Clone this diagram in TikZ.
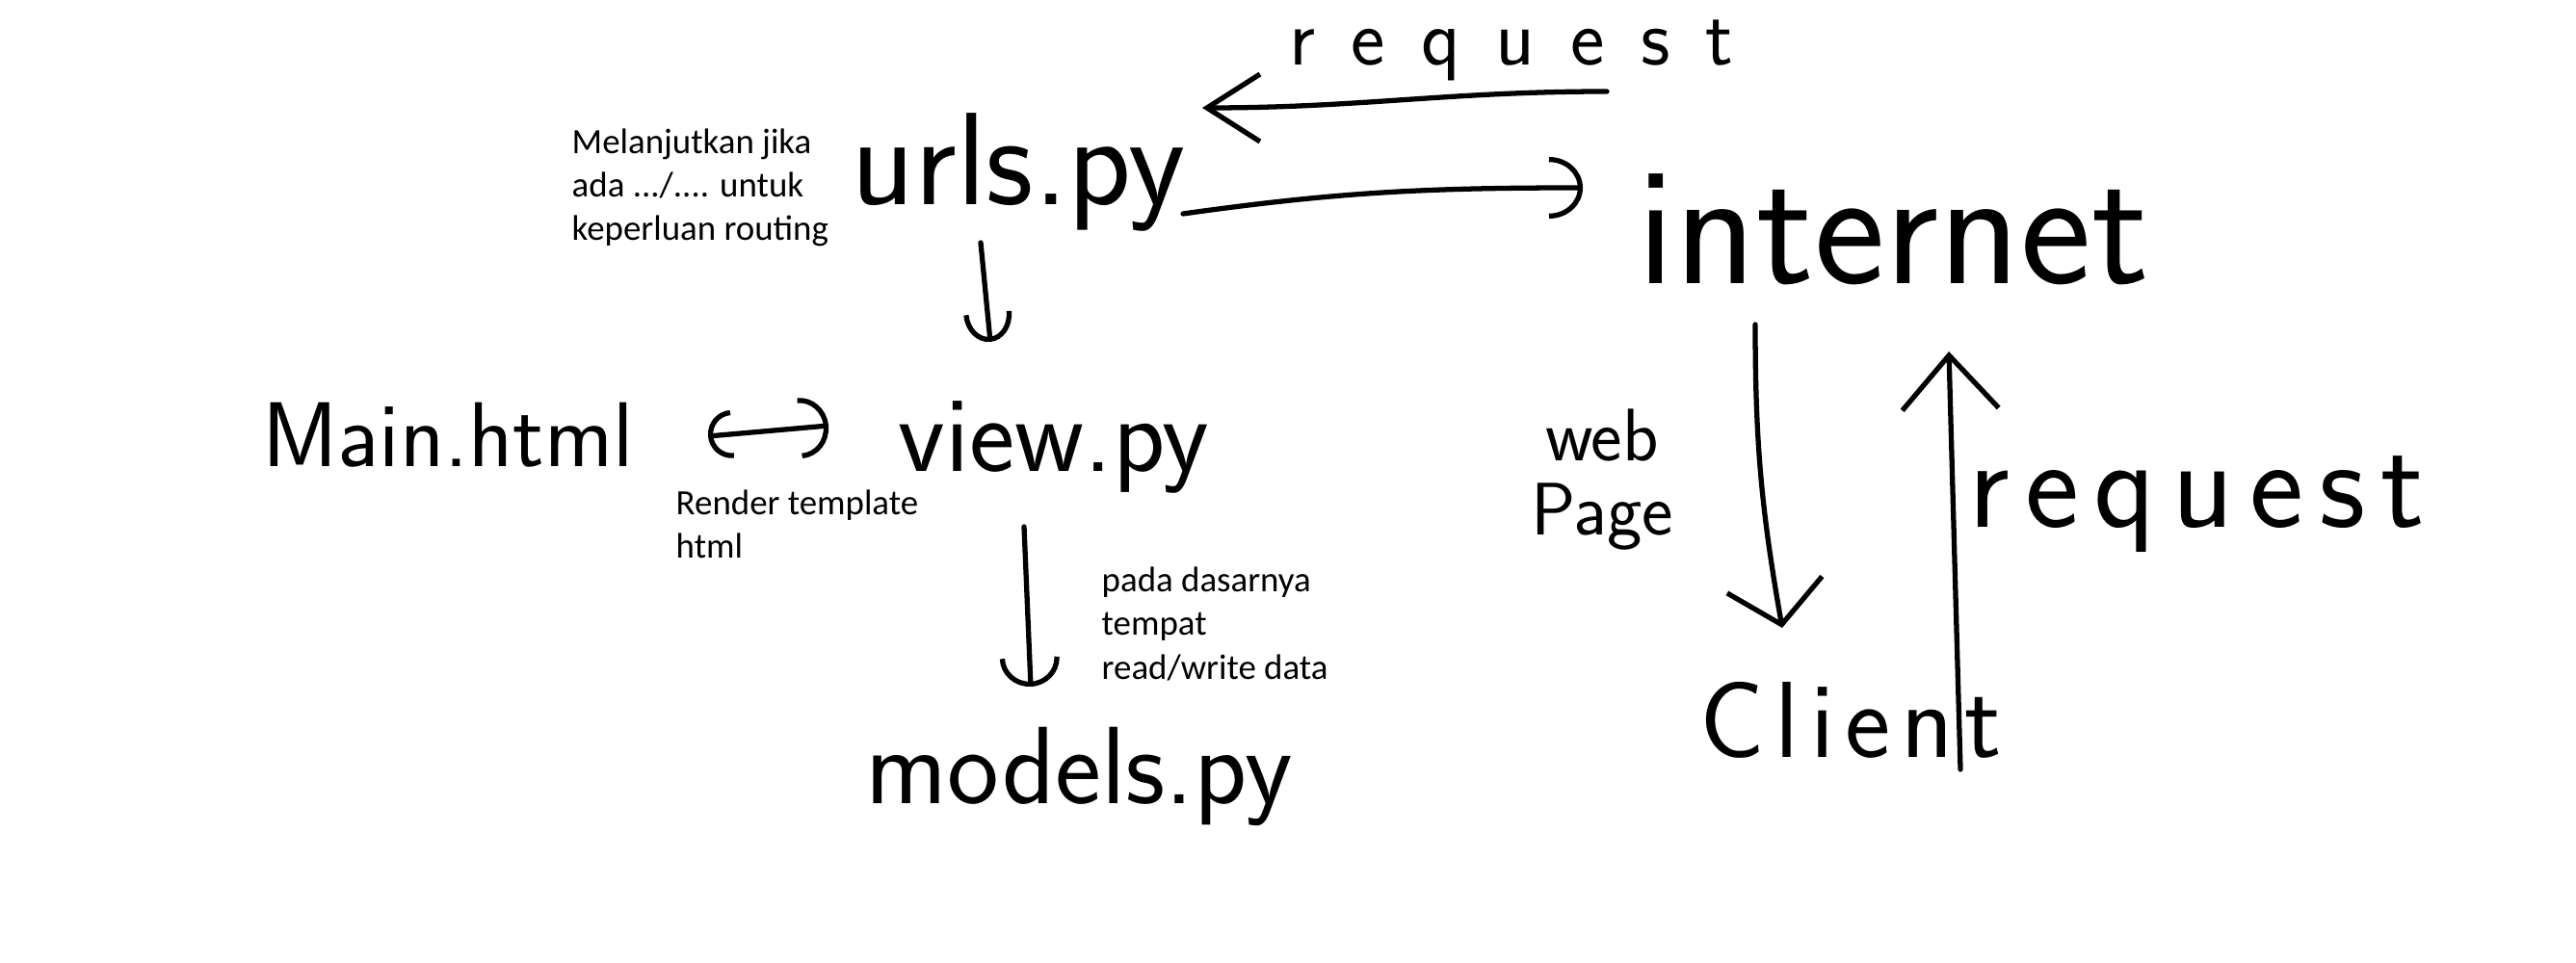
\documentclass[tikz,border=0pt]{standalone}
\usepackage{fontspec}
\newfontfamily\notefont{Carlito}
\newfontfamily\handfont{lmsans17-regular.otf}
\usetikzlibrary{arrows.meta,calc}
\tikzset{
  hand/.style={inner sep=0pt,font=\handfont\fontsize{#1}{#1}\selectfont},
  spaced/.style 2 args={inner sep=0pt,font=\handfont\fontsize{#1}{#1}\selectfont\addfontfeatures{LetterSpace=#2}},
  note/.style={inner sep=0pt,anchor=north west,align=left,font=\notefont\fontsize{10.5}{12.9}\selectfont},
  pen/.style={line width=1.5pt,line cap=round,line join=round},
  barb/.style={pen,-{Straight Barb[length=#1,width=10mm]}},
  cup/.style={pen,-{Arc Barb[length=3mm,width=#1]}}
}
\begin{document}
\begin{tikzpicture}
\useasboundingbox (0,0) rectangle (26.74,-10);
\node[hand=38.9]      (urls)     at (10.57,-1.79) {urls.py};
\node[hand=50]        (internet) at (19.65,-2.38) {internet};
\node[hand=27.2]      (main)     at (4.65,-4.52)  {Main.html};
\node[hand=32]        (view)     at (10.94,-4.64) {view.py};
\node[hand=32.5]      (models)   at (11.2,-8.06)  {models.py};
\node[spaced={32}{10}] (client)  at (19.21,-7.48) {Client};
\node[spaced={24}{44}] (reqtop)   at (15.69,-0.52) {request};
\node[spaced={38}{12}] (reqright) at (22.8,-5.24)  {request};
\node[hand=22,align=center] (webpage) at (16.63,-4.98) {web\\Page};
\node[note] (noteurls)   at (5.93,-1.33)  {Melanjutkan jika\\ada .../.... untuk\\keperluan routing};
\node[note] (noteview)   at (7.01,-5.08)  {Render template\\html};
\node[note] (notemodels) at (11.43,-5.88) {pada dasarnya\\tempat\\read/write data};
\draw[pen,-{Straight Barb[length=5.5mm,width=7mm]}] ($(internet)+(-2.97,1.43)$) to[out=180,in=0] ($(urls)+(1.91,0.67)$);
\draw[pen,-{Arc Barb[length=3.5mm,width=6.4mm]}] ($(urls)+(1.71,-0.43)$) to[out=8,in=180] ($(internet)+(-3.22,0.43)$);
\draw[cup=5mm] ($(urls)+(-0.39,-0.73)$) -- ($(view)+(-0.66,1.09)$);
\draw[cup=6.2mm] ($(view)+(-0.31,-0.83)$) -- ($(models)+(-0.5,0.93)$);
\draw[pen,{Arc Barb[length=2.5mm,width=5mm]}-{Arc Barb[length=3mm,width=6.3mm]}] ($(main)+(2.70,-0.01)$) -- ($(view)+(-2.34,0.22)$);
\draw[barb=4.2mm] ($(internet)+(-1.43,-0.99)$) to[out=-90,in=100] ($(client)+(-0.71,0.96)$);
\draw[barb=5.6mm] ($(client)+(1.14,-0.51)$) -- ($(internet)+(0.58,-1.27)$);
\end{tikzpicture}
\end{document}
